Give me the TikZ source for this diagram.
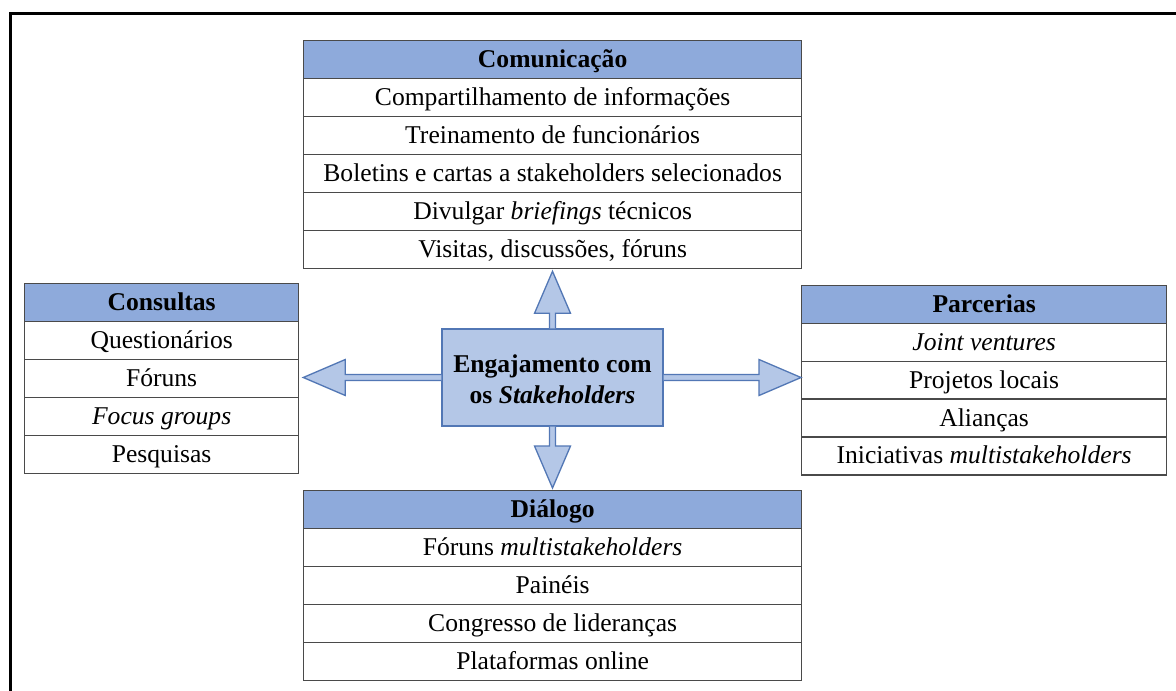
\documentclass[tikz,border=0pt]{standalone}
\usepackage{fontspec}
\setmainfont{Liberation Serif}
\usetikzlibrary{calc}

\definecolor{hdrblue}{HTML}{8EAADB}
\definecolor{coreblue}{HTML}{B4C7E7}
\definecolor{edgeblue}{HTML}{5277B5}
\definecolor{rulegray}{HTML}{4A4A4A}

\tikzset{
  txt/.style={font=\fontsize{25.6}{30}\selectfont},
  cell/.style={txt, draw=rulegray, line width=1.3pt, fill=white, anchor=north west,
               inner sep=0pt, minimum height=38pt, text height=20pt, text depth=4pt},
  hdr/.style={cell, fill=hdrblue, font=\fontsize{25.6}{30}\selectfont\bfseries},
  core/.style={draw=edgeblue, line width=1.3pt, fill=coreblue, inner sep=0pt,
               minimum width=221pt, minimum height=97pt,
               font=\fontsize{25.6}{30}\selectfont\bfseries},
  blockarrow/.style={draw=edgeblue, fill=coreblue, line width=1.3pt, line join=miter},
  frameline/.style={draw=black, line width=3pt}
}

% block arrow from point #1 to tip #2 (shaft half width 3, head half width 18, head length 42)
\newcommand\blockarr[2]{%
  \coordinate (hb) at ($(#2)!42pt!(#1)$);
  \draw[blockarrow]
    ($(#1)!3pt!90:(#2)$) -- ($(hb)!3pt!-90:(#1)$) -- ($(hb)!18pt!-90:(#1)$) --
    (#2) --
    ($(hb)!18pt!90:(#1)$) -- ($(hb)!3pt!90:(#1)$) -- ($(#1)!3pt!-90:(#2)$);
}

\begin{document}
\begin{tikzpicture}[x=1pt,y=-1pt]
  \clip (0,0) rectangle (1176,691);
  \fill[white] (0,0) rectangle (1176,691);

  % outer frame (runs past the right and bottom edges)
  \draw[frameline] (10,740) -- (10,13) -- (1230,13);

  % Comunicação
  \begin{scope}[every node/.append style={minimum width=498pt}]
    \node[hdr]  (comH) at (303,40)  {Comunicação};
    \node[cell] (com1) at (303,78)  {Compartilhamento de informações};
    \node[cell] (com2) at (303,116) {Treinamento de funcionários};
    \node[cell] (com3) at (303,154) {Boletins e cartas a stakeholders selecionados};
    \node[cell] (com4) at (303,192) {Divulgar \textit{briefings} técnicos};
    \node[cell] (com5) at (303,230) {Visitas, discussões, fóruns};
  \end{scope}

  % Consultas
  \begin{scope}[every node/.append style={minimum width=274pt}]
    \node[hdr]  (conH) at (24,283) {Consultas};
    \node[cell] (con1) at (24,321) {Questionários};
    \node[cell] (con2) at (24,359) {Fóruns};
    \node[cell] (con3) at (24,397) {\textit{Focus groups}};
    \node[cell] (con4) at (24,435) {Pesquisas};
  \end{scope}

  % Parcerias
  \begin{scope}[every node/.append style={minimum width=365pt, minimum height=37.8pt}]
    \node[hdr]  (parH) at (801,285)   {Parcerias};
    \node[cell] (par1) at (801,322.8) {\textit{Joint ventures}};
    \node[cell] (par2) at (801,360.6) {Projetos locais};
    \node[cell] (par3) at (801,398.4) {Alianças};
    \node[cell] (par4) at (801,436.2) {Iniciativas \textit{multistakeholders}};
  \end{scope}

  % Diálogo
  \begin{scope}[every node/.append style={minimum width=498pt}]
    \node[hdr]  (diaH) at (303,490) {Diálogo};
    \node[cell] (dia1) at (303,528) {Fóruns \textit{multistakeholders}};
    \node[cell] (dia2) at (303,566) {Painéis};
    \node[cell] (dia3) at (303,604) {Congresso de lideranças};
    \node[cell] (dia4) at (303,642) {Plataformas online};
  \end{scope}

  % central box; the tall strut sets its two lines a little below the middle
  \node[core] (eng) at (552.5,377.5)
    {\begin{tabular}{@{}c@{}}\rule{0pt}{30pt}Engajamento com\\[0.5pt]os \textit{Stakeholders}\end{tabular}};

  % arrow tips next to the four tables
  \coordinate (tipU) at ($(eng.north |- com5.south)+(0,2)$);
  \coordinate (tipD) at ($(eng.south |- diaH.north)+(0,-2)$);
  \coordinate (tipL) at ($(eng.west -| con2.east)+(4,0)$);
  \coordinate (tipR) at (eng.east -| parH.west);

  \blockarr{eng.north}{tipU}
  \blockarr{eng.south}{tipD}
  \blockarr{eng.west}{tipL}
  \blockarr{eng.east}{tipR}
\end{tikzpicture}
\end{document}
